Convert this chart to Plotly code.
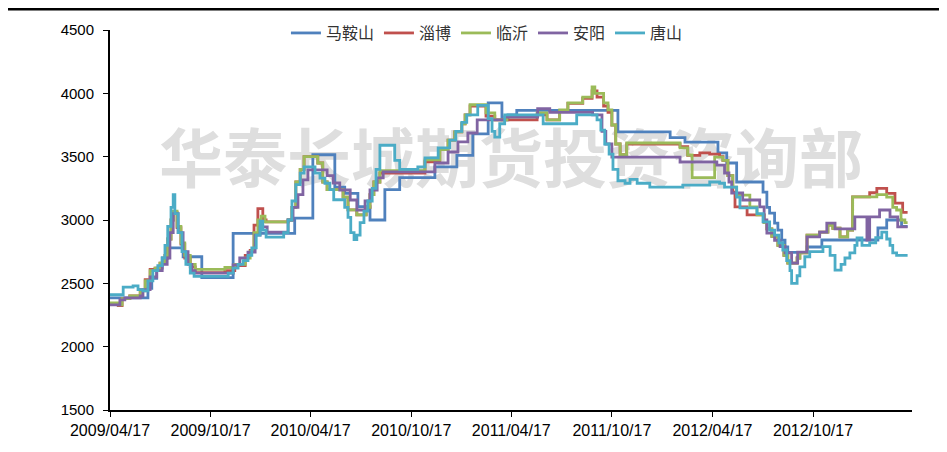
import plotly.graph_objects as go

# ---------------- data ----------------
names = ["马鞍山", "淄博", "临沂", "安阳", "唐山"]
colors = ["#4F81BD", "#C0504D", "#9BBB59", "#8064A2", "#4BACC6"]

dates_maanshan = ["2009-04-17","2009-06-25","2009-07-02","2009-07-11","2009-07-21","2009-07-31","2009-08-28","2009-10-01",
    "2009-11-27","2010-03-19","2010-04-21","2010-05-31","2010-06-18","2010-07-12","2010-08-03","2010-08-30","2010-09-26",
    "2010-11-29","2011-01-08","2011-02-06","2011-03-06","2011-03-31","2011-04-11","2011-04-27","2011-10-28","2012-01-31",
    "2012-02-27","2012-04-27","2012-05-13","2012-05-31","2012-07-18","2012-07-25","2012-07-30","2012-08-08","2012-08-14",
    "2012-08-21","2012-08-27","2012-09-01","2012-10-06","2012-11-02","2013-02-12","2013-02-28","2013-03-27","2013-04-07"]
vals_maanshan = [2385,2460,2540,2620,2700,2780,2710,2545,2895,3015,3515,3260,3210,3105,3000,3240,3335,3420,3510,3680,
    3925,3790,3830,3865,3695,3650,3615,3530,3450,3300,3220,3100,3055,2975,2920,2840,2787,2745,2787,2842,2937,3000,2950,2950]

dates_zibo = ["2009-04-17","2009-05-02","2009-05-09","2009-05-23","2009-06-11","2009-06-20","2009-06-29","2009-07-08",
    "2009-07-17","2009-07-26","2009-07-31","2009-08-06","2009-08-10","2009-08-17","2009-08-24","2009-08-31","2009-09-10",
    "2009-09-19","2009-11-12","2009-11-30","2009-12-19","2009-12-28","2010-01-04","2010-01-11","2010-01-20","2010-01-26",
    "2010-03-07","2010-03-14","2010-03-21","2010-03-29","2010-04-05","2010-04-30","2010-05-09","2010-05-17","2010-06-15",
    "2010-06-24","2010-07-10","2010-07-27","2010-08-03","2010-08-10","2010-08-21","2010-11-11","2010-12-08","2010-12-23",
    "2011-01-04","2011-01-17","2011-01-23","2011-02-01","2011-03-02","2011-03-18","2011-06-03","2011-06-21","2011-07-14",
    "2011-07-29","2011-08-25","2011-09-11","2011-09-20","2011-10-02","2011-10-10","2011-10-17","2011-10-24","2011-11-01",
    "2011-11-13","2012-02-18","2012-03-03","2012-03-25","2012-04-12","2012-04-30","2012-05-06","2012-05-15","2012-05-24",
    "2012-05-28","2012-06-19","2012-07-20","2012-07-25","2012-08-03","2012-08-14","2012-08-25","2012-09-01","2012-09-18",
    "2012-09-23","2012-10-06","2012-10-29","2012-11-13","2012-11-22","2012-12-05","2012-12-19","2012-12-28","2013-01-28",
    "2013-02-10","2013-02-28","2013-03-15","2013-03-29","2013-04-07"]
vals_zibo = [2340,2325,2380,2400,2450,2530,2610,2620,2660,2720,2850,3000,3060,2940,2810,2700,2630,2585,2600,2640,2720,
    2760,2960,3090,3000,2985,3000,3100,3300,3400,3500,3450,3300,3240,3180,3080,3040,3100,3200,3300,3370,3460,3555,3630,
    3695,3760,3830,3900,3820,3790,3830,3790,3860,3920,3960,4020,3970,3900,3850,3750,3600,3515,3600,3580,3510,3530,3520,
    3500,3470,3350,3220,3103,3040,2980,2930,2870,2800,2720,2660,2700,2740,2880,2905,2960,2935,2866,2921,3182,3215,3250,
    3210,3134,3060,3060]

dates_linyi = ["2009-04-17","2009-05-02","2009-05-09","2009-05-23","2009-06-11","2009-06-20","2009-06-29","2009-07-08",
    "2009-07-17","2009-07-26","2009-07-31","2009-08-06","2009-08-10","2009-08-17","2009-08-24","2009-08-31","2009-09-10",
    "2009-09-19","2009-11-12","2009-11-30","2009-12-19","2009-12-28","2010-01-04","2010-01-11","2010-01-17","2010-01-24",
    "2010-03-07","2010-03-14","2010-03-21","2010-03-29","2010-04-05","2010-04-30","2010-05-09","2010-05-17","2010-06-15",
    "2010-06-24","2010-07-10","2010-07-27","2010-08-03","2010-08-10","2010-08-21","2010-11-11","2010-12-08","2010-12-23",
    "2011-01-04","2011-01-17","2011-01-23","2011-02-01","2011-03-02","2011-03-18","2011-04-09","2011-06-03","2011-06-21",
    "2011-07-14","2011-07-29","2011-08-25","2011-09-11","2011-09-16","2011-10-02","2011-10-10","2011-10-17","2011-10-24",
    "2011-11-01","2011-11-13","2012-02-18","2012-03-03","2012-03-11","2012-04-21","2012-05-06","2012-05-15","2012-05-24",
    "2012-05-31","2012-06-24","2012-07-07","2012-07-20","2012-07-25","2012-08-03","2012-08-14","2012-08-25","2012-09-01",
    "2012-09-18","2012-09-23","2012-10-06","2012-10-29","2012-11-13","2012-11-22","2012-12-05","2012-12-19","2012-12-28",
    "2013-02-10","2013-02-28","2013-03-11","2013-03-18","2013-03-26","2013-04-02","2013-04-07"]
vals_linyi = [2345,2330,2380,2400,2440,2520,2600,2620,2660,2720,2850,3000,3070,2950,2820,2720,2650,2610,2625,2650,2700,
    2750,2900,3000,3030,2985,3000,3100,3300,3400,3500,3450,3300,3240,3180,3080,3040,3100,3200,3300,3390,3475,3555,3630,
    3695,3760,3830,3910,3845,3790,3815,3845,3790,3870,3925,3970,4050,4000,3925,3870,3750,3600,3515,3608,3570,3513,3335,
    3497,3470,3350,3260,3197,3103,3040,2980,2930,2870,2800,2720,2660,2700,2740,2880,2905,2960,2935,2866,2921,3182,3200,
    3180,3100,3079,3000,2980,2980]

dates_anyang = ["2009-04-17","2009-05-05","2009-05-14","2009-06-11","2009-06-16","2009-06-29","2009-07-11","2009-07-21",
    "2009-07-30","2009-08-04","2009-08-10","2009-08-19","2009-08-28","2009-09-06","2009-09-13","2009-09-19","2009-11-27",
    "2009-12-09","2009-12-24","2010-01-06","2010-01-15","2010-01-28","2010-03-07","2010-03-16","2010-03-25","2010-04-03",
    "2010-04-12","2010-05-17","2010-05-28","2010-06-09","2010-06-28","2010-07-10","2010-07-25","2010-08-03","2010-08-16",
    "2010-08-27","2010-11-29","2010-12-23","2011-01-10","2011-01-28","2011-02-14","2011-04-05","2011-06-04","2011-06-26",
    "2011-09-12","2011-09-29","2011-10-06","2011-10-17","2012-02-18","2012-04-25","2012-05-09","2012-05-17","2012-05-22",
    "2012-06-11","2012-07-12","2012-07-20","2012-07-25","2012-08-08","2012-08-18","2012-08-27","2012-09-08","2012-09-19",
    "2012-10-06","2012-10-29","2012-11-11","2012-11-26","2013-01-01","2013-01-23","2013-01-28","2013-02-15","2013-03-06",
    "2013-03-20","2013-04-07"]
vals_anyang = [2330,2370,2385,2400,2450,2550,2600,2650,2700,2900,3050,2900,2750,2650,2600,2580,2645,2700,2747,2880,2945,
    2905,3000,3100,3200,3316,3395,3350,3292,3237,3158,3079,3150,3237,3332,3380,3450,3537,3616,3687,3790,3813,3880,3850,
    3830,3700,3600,3497,3458,3434,3371,3300,3213,3158,3103,3000,2897,2840,2790,2740,2660,2747,2866,2905,2976,2930,3024,
    2842,3024,3079,3024,2945,2945]

dates_tangshan = ["2009-04-17","2009-05-11","2009-05-29","2009-06-07","2009-06-16","2009-06-25","2009-07-04","2009-07-13",
    "2009-07-21","2009-07-26","2009-07-31","2009-08-06","2009-08-10","2009-08-13","2009-08-19","2009-08-26","2009-09-02",
    "2009-09-10","2009-09-17","2009-11-18","2009-11-27","2009-12-06","2009-12-15","2009-12-24","2009-12-31","2010-01-08",
    "2010-01-15","2010-01-20","2010-01-26","2010-02-27","2010-03-07","2010-03-14","2010-03-21","2010-03-29","2010-04-05",
    "2010-04-25","2010-05-04","2010-05-13","2010-05-22","2010-05-29","2010-06-18","2010-06-24","2010-06-29","2010-07-05",
    "2010-07-10","2010-07-16","2010-07-23","2010-07-30","2010-08-07","2010-08-14","2010-08-21","2010-09-17","2010-09-26",
    "2010-10-29","2010-11-11","2010-12-05","2010-12-26","2011-01-06","2011-01-17","2011-01-26","2011-02-15","2011-03-06",
    "2011-03-13","2011-03-18","2011-03-27","2011-04-05","2011-06-14","2011-08-14","2011-09-20","2011-09-27","2011-10-04",
    "2011-10-12","2011-10-19","2011-10-28","2011-11-10","2011-11-19","2011-12-02","2011-12-25","2012-02-23","2012-04-12",
    "2012-04-30","2012-05-09","2012-05-31","2012-06-06","2012-07-07","2012-07-18","2012-07-30","2012-08-08","2012-08-16",
    "2012-08-23","2012-08-30","2012-09-05","2012-09-08","2012-09-18","2012-09-23","2012-10-02","2012-10-11","2012-11-04",
    "2012-11-17","2012-11-26","2012-12-07","2012-12-14","2012-12-23","2013-01-01","2013-01-05","2013-01-14","2013-01-28",
    "2013-02-08","2013-02-19","2013-02-28","2013-03-06","2013-03-11","2013-03-18","2013-04-07"]
vals_tangshan = [2410,2470,2480,2450,2440,2520,2600,2640,2700,2800,2950,3100,3200,3050,2900,2750,2650,2580,2555,2580,
    2620,2650,2680,2720,2780,2880,2990,2920,2865,2900,3000,3150,3280,3370,3420,3370,3330,3290,3240,3160,3100,3020,2900,
    2845,2880,2980,3070,3150,3250,3400,3590,3470,3400,3420,3490,3570,3630,3700,3770,3830,3905,3800,3700,3655,3760,3830,
    3760,3830,3790,3710,3600,3520,3400,3310,3290,3320,3290,3260,3275,3300,3290,3260,3180,3095,3050,2985,2920,2880,2820,
    2763,2680,2600,2500,2560,2630,2710,2750,2790,2720,2605,2650,2700,2740,2800,2858,2800,2820,2860,2905,2850,2800,2740,
    2720,2720]

tick_dates = ["2009-04-17","2009-10-17","2010-04-17","2010-10-17","2011-04-17","2011-10-17","2012-04-17","2012-10-17"]
tick_text = ["2009/04/17","2009/10/17","2010/04/17","2010/10/17","2011/04/17","2011/10/17","2012/04/17","2012/10/17"]
y_ticks = [1500, 2000, 2500, 3000, 3500, 4000, 4500]
watermark = "华泰长城期货投资咨询部"

series_dates = [dates_maanshan, dates_zibo, dates_linyi, dates_anyang, dates_tangshan]
series_vals = [vals_maanshan, vals_zibo, vals_linyi, vals_anyang, vals_tangshan]

# ---------------- figure ----------------
fig = go.Figure()
for name, color, xs, ys in zip(names, colors, series_dates, series_vals):
    fig.add_trace(go.Scatter(x=xs, y=ys, name=name, mode="lines",
                             line=dict(color=color, width=2.8, shape="hv")))

cjk = "Noto Sans CJK SC, sans-serif"
fig.update_layout(
    width=939, height=444,
    margin=dict(l=102, r=35, t=22, b=42, autoexpand=False),
    paper_bgcolor="white", plot_bgcolor="white",
    font=dict(family="Liberation Sans, Arial, sans-serif", size=14, color="#000000"),
    showlegend=True,
    legend=dict(orientation="h", x=0.47, xanchor="center", y=0.992, yanchor="middle",
                font=dict(family=cjk, size=16, color="#333333"),
                bgcolor="rgba(0,0,0,0)", itemwidth=30, tracegroupgap=0),
    xaxis=dict(type="date", range=["2009-04-17", "2013-04-15"],
               tickmode="array", tickvals=tick_dates, ticktext=tick_text,
               showline=True, linecolor="#000000", linewidth=2,
               ticks="outside", ticklen=5, tickcolor="#000000", tickwidth=1,
               showgrid=False, zeroline=False, automargin=False,
               tickfont=dict(family="Liberation Sans, Arial, sans-serif", size=16)),
    yaxis=dict(range=[1500, 4500], tickmode="array", tickvals=y_ticks,
               showline=True, linecolor="#000000", linewidth=2,
               ticks="outside", ticklen=5, tickcolor="#000000", tickwidth=1,
               showgrid=False, zeroline=False, ticklabelstandoff=6, automargin=False,
               tickfont=dict(family="Liberation Sans, Arial, sans-serif", size=15)),
    shapes=[
        dict(type="line", xref="paper", yref="paper", x0=-0.131, x1=1.05, y0=1.055, y1=1.055,
             line=dict(color="#000000", width=3)),
        dict(type="rect", xref="paper", yref="paper", x0=0.0, x1=1.0, y0=0.575, y1=0.72,
             line=dict(width=0), fillcolor="rgba(0,0,0,0)", layer="below",
             label=dict(text=watermark, textposition="middle center",
                        font=dict(family=cjk, size=64, color="#DEDEDE", weight="bold"))),
    ],
)

fig.write_html("out.html")
